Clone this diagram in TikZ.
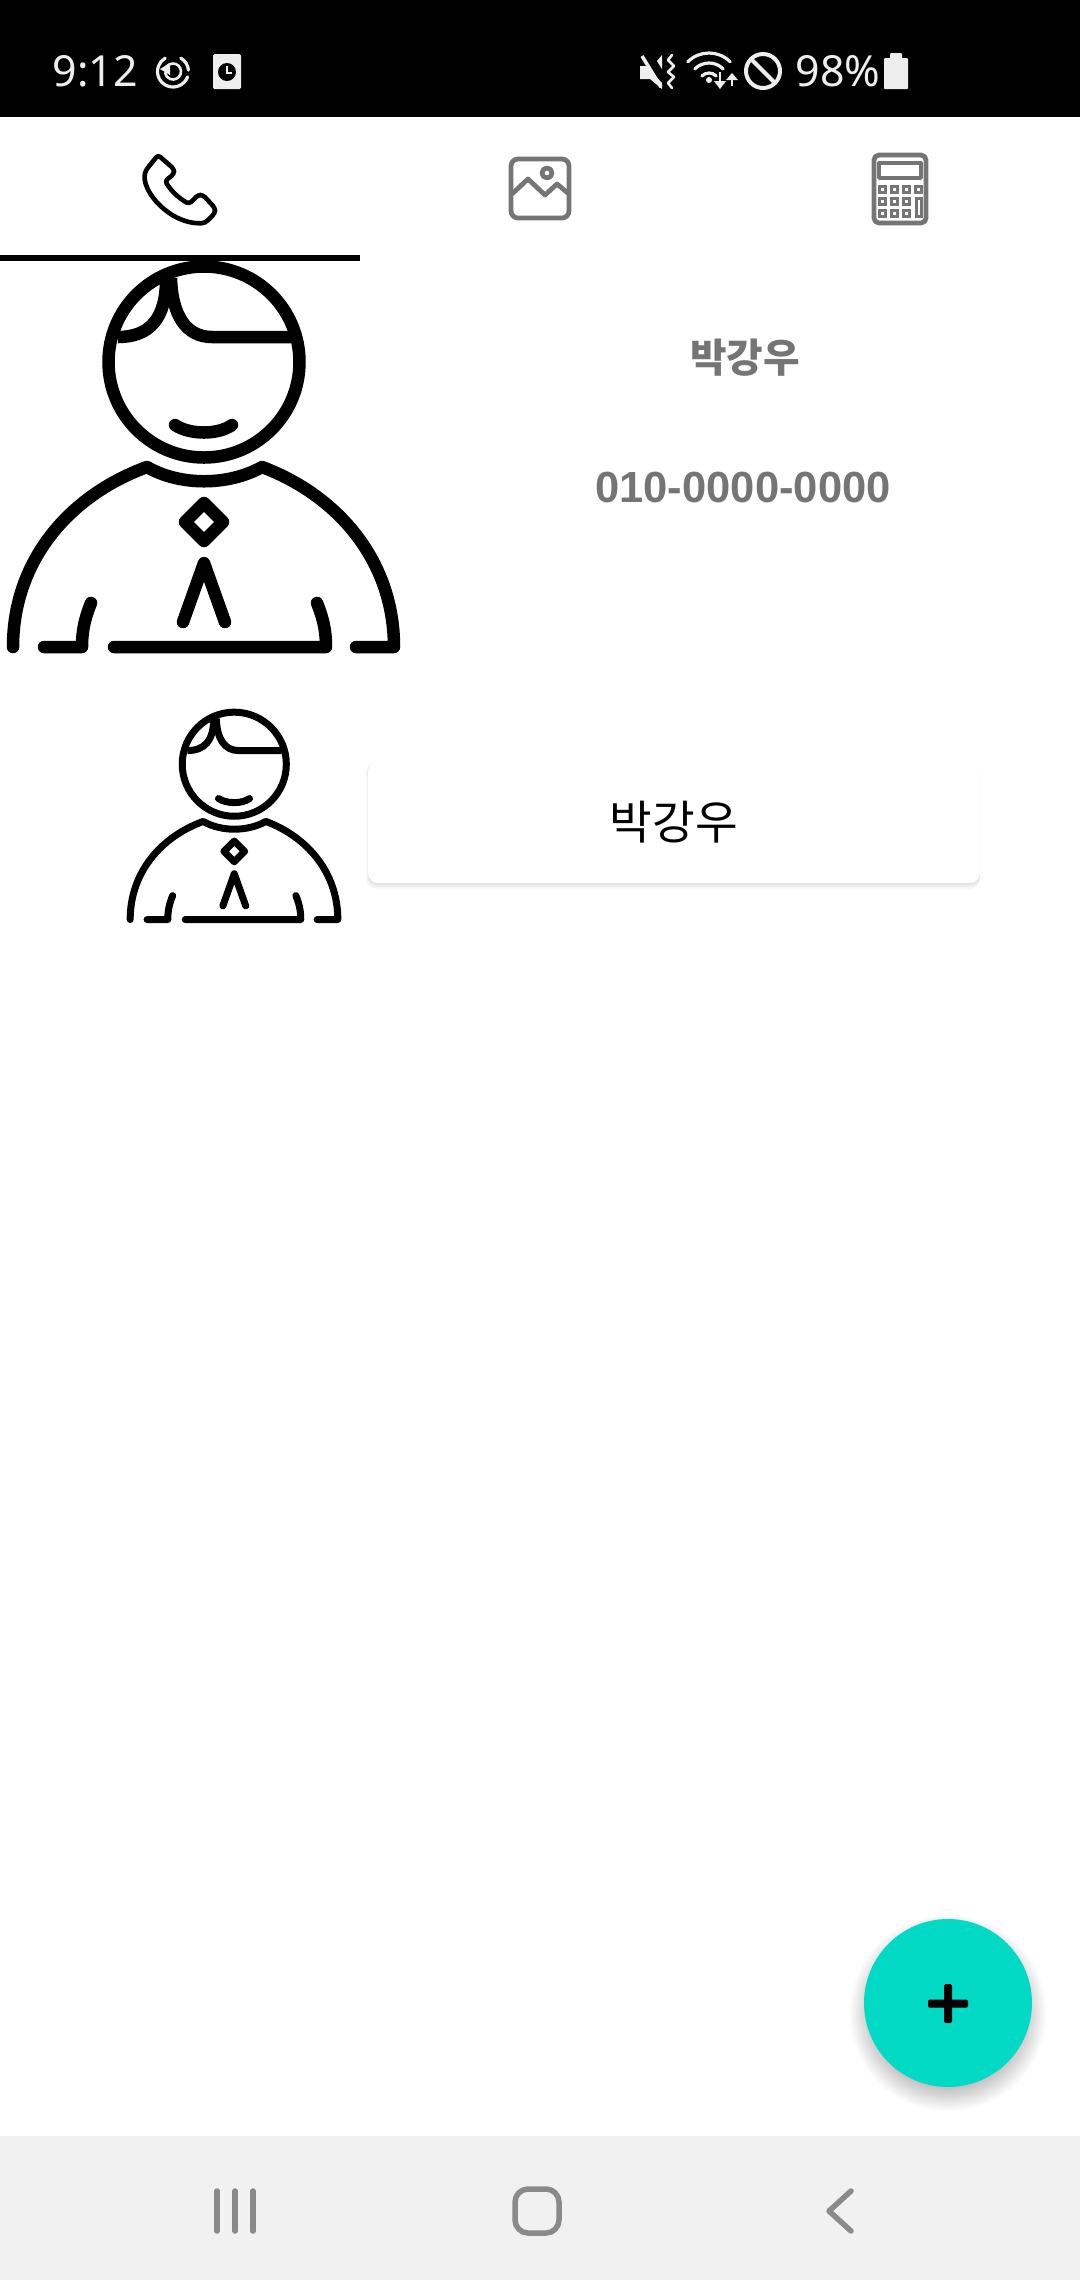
\documentclass[tikz,border=0pt]{standalone}
\usepackage{fontspec}
\setmainfont{Noto Sans}
\newfontfamily\cjk{Noto Sans CJK KR}
\newfontfamily\numfont{Liberation Sans}
\usetikzlibrary{calc,positioning}
\definecolor{statusgray}{HTML}{EEEEEE}
\definecolor{icongray}{HTML}{757575}
\definecolor{navgray}{HTML}{F1F1F1}
\definecolor{navicon}{HTML}{8A8A8A}
\definecolor{fabteal}{HTML}{03DAC5}
\newcommand{\px}{*0.1mm}

\begin{document}
\begin{tikzpicture}[
  x=0.1mm,y=-0.1mm,
  every node/.style={inner sep=0pt},
  statustext/.style={text=statusgray,font=\fontsize{12.2}{14}\selectfont},
  nametext/.style={text=icongray,font=\fontsize{11.3}{13}\selectfont\cjk\bfseries},
  numbertext/.style={text=icongray,font=\fontsize{12.4}{14}\selectfont\numfont\bfseries},
  cardtext/.style={text=black,font=\fontsize{13.2}{15}\selectfont\cjk},
  staticon/.style={draw=statusgray,line width=3.2\px,line cap=round,line join=round},
  tabicon/.style={draw=icongray,line width=4.8\px,line join=round},
  calckey/.style={draw=icongray,line width=3\px},
  navbtn/.style={draw=navicon,line width=5.5\px,line cap=round,line join=round},
  person/.pic={
    \draw (204,362) circle[radius=95.5];
    \draw (118,337) .. controls (150,337) and (166,318) .. (166,280);
    \draw (171,278) .. controls (172,315) and (186,337) .. (212,337) -- (291,337);
    \draw[line cap=round] (175,425) .. controls (190,435) and (218,435) .. (232,425);
    \draw[line cap=round,line join=round] (13,647) .. controls (13,560) and (70,495) .. (147,467)
      .. controls (180,486) and (228,486) .. (262,467)
      .. controls (337,495) and (394,560) .. (394,647) -- (356,647);
    \draw[line cap=round,line join=round] (44,647) -- (82,647) .. controls (82,630) and (85,618) .. (91,603);
    \draw[line cap=round,line join=round] (114,647) -- (326,647) .. controls (326,630) and (323,618) .. (317,603);
    \draw[line join=round] (204,503) -- (223,522) -- (204,541) -- (185,522) -- cycle;
    \draw[line cap=round,line join=round] (183,622) -- (204,563) -- (225,622);
  }
]
\useasboundingbox (0,0) rectangle (1080,2280);
\fill[white] (0,0) rectangle (1080,2280);

% status bar
\fill[black] (0,0) rectangle (1080,117);
\node[statustext,anchor=west] (time) at (52,71) {9:12};
\draw[staticon] (173,71.5) ++(-60:15.5) arc[start angle=-60,end angle=-5,radius=15.5];
\draw[staticon] (173,71.5) ++(20:15.5) arc[start angle=20,end angle=240,radius=15.5];
\draw[staticon,line width=2.6\px] (173,71.5) ++(-160:8) arc[start angle=-160,end angle=170,radius=8];
\fill[statusgray] (160,69) -- (170,63) -- (170,75) -- cycle;
\fill[statusgray,rounded corners=1.5\px] (213,54) rectangle (241,89);
\fill[black] (227,72) circle[radius=9];
\draw[statusgray,line width=2\px] (227,66) -- (227,72.5) -- (232,72.5);

\fill[statusgray] (640,66) -- (646,66) -- (662,83) -- (662,89) -- (650,79) -- (640,79) -- cycle;
\draw[statusgray,line width=3.5\px] (642,56) -- (661,87);
\fill[statusgray] (657,61) -- (662,55) -- (662,69) -- cycle;
\draw[staticon,line width=2.6\px] (672,55) -- (668,60) -- (674,66) -- (668,72) -- (674,77) -- (668,83) -- (672,88);
\draw[staticon] (709,83) ++(-135:30) arc[start angle=-135,end angle=-45,radius=30];
\draw[staticon] (709,83) ++(-135:20) arc[start angle=-135,end angle=-45,radius=20];
\draw[staticon] (709,83) ++(-135:10) arc[start angle=-135,end angle=-45,radius=10];
\fill[statusgray] (709,80) circle[radius=3];
\draw[statusgray,line width=2.4\px] (720,72) -- (720,84);
\fill[statusgray] (714,81) -- (726,81) -- (720,89) -- cycle;
\draw[statusgray,line width=2.4\px] (732,77) -- (732,86);
\fill[statusgray] (726,80) -- (738,80) -- (732,73) -- cycle;
\draw[statusgray,line width=4\px] (763,71) circle[radius=17];
\draw[statusgray,line width=4\px] (751,59) -- (775,83);
\node[statustext,anchor=west] (level) at (795,71) {98\%};
\fill[statusgray,rounded corners=1\px] (884,58) rectangle (908,89);
\fill[statusgray,rounded corners=1\px] (890,53) rectangle (902,60);

% tab bar
\draw[black,line width=4.6\px,line join=round,rounded corners=3\px] (158,155) -- (174,169) -- (174,174) -- (165,181)
  .. controls (172,192) and (179,198) .. (189,204) -- (198,195) -- (203,195) -- (215,208) -- (215,213) -- (205,223)
  .. controls (170,225) and (140,190) .. (146,170) -- cycle;
\fill[black] (0,255) rectangle (360,261);

\draw[tabicon,rounded corners=7\px] (511,159) rectangle (569,218);
\draw[tabicon] (547,173) circle[radius=5];
\draw[tabicon] (512,194) -- (528,179) -- (545,195) -- (557,184) -- (569,194);

\draw[tabicon,rounded corners=5\px] (874,155) rectangle (926,223);
\draw[tabicon,line width=3.4\px] (879,163) rectangle (921,178);
\draw[calckey] (879,186) rectangle (885,192);
\draw[calckey] (891,186) rectangle (897,192);
\draw[calckey] (903,186) rectangle (909,192);
\draw[calckey] (915,186) rectangle (921,192);
\draw[calckey] (879,198) rectangle (885,204);
\draw[calckey] (891,198) rectangle (897,204);
\draw[calckey] (903,198) rectangle (909,204);
\draw[calckey] (879,210) rectangle (885,216);
\draw[calckey] (891,210) rectangle (897,216);
\draw[calckey] (903,210) rectangle (909,216);
\draw[calckey] (916,198) rectangle (921,216);

% contact header
\pic[line width=12.5\px] at (0,0) {person};
\node[nametext] (name) at (745,358) {박강우};
\node[numbertext] (number) at (743,487) {010-0000-0000};

% contact row
\pic[line width=7\px,scale=.545] at (123.1,566.9) {person};
\foreach \grow in {1,2,...,6}{
  \fill[black,opacity=.018,rounded corners=10\px] (369-\grow/2,762) rectangle (980,883+\grow);
}
\node[fill=white,rounded corners=10\px,minimum width=612\px,minimum height=122\px] (card) at (674,822) {};
\node[cardtext] (cardname) at (card.center) {박강우};

% add button
\foreach \grow in {2,4,...,26}{
  \fill[black,opacity=.018] (948,2013) circle[radius=72+\grow];
}
\fill[fabteal] (948,2003) circle[radius=84];
\fill[black,rounded corners=1.5\px] (944,1984) rectangle (952,2023);
\fill[black,rounded corners=1.5\px] (928,1999.5) rectangle (968,2007.5);

% navigation bar
\fill[navgray] (0,2136) rectangle (1080,2280);
\draw[navbtn] (217,2191) -- (217,2231);
\draw[navbtn] (235,2191) -- (235,2231);
\draw[navbtn] (253,2191) -- (253,2231);
\draw[navbtn,rounded corners=13\px] (515,2189) rectangle (559,2233);
\draw[navbtn] (851,2191) -- (829,2211) -- (851,2231);
\end{tikzpicture}
\end{document}
